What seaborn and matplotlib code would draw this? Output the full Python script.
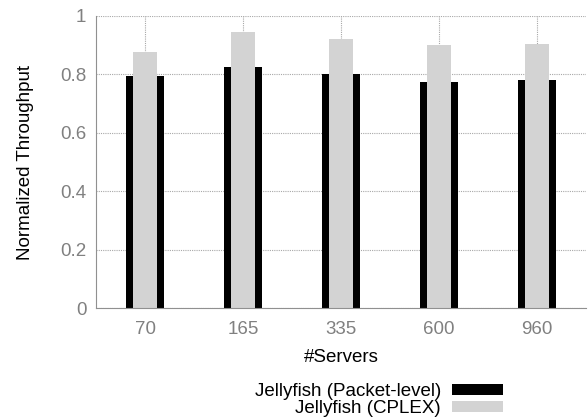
import matplotlib
matplotlib.use("Agg")
import matplotlib.pyplot as plt
import matplotlib.patches as mpatches
import seaborn as sns
import pandas as pd

servers = ["70", "165", "335", "600", "960"]
packet_level = [0.795, 0.825, 0.801, 0.774, 0.781]
cplex = [0.877, 0.945, 0.921, 0.900, 0.904]
series_names = ["Jellyfish (Packet-level)", "Jellyfish (CPLEX)"]
yticks = [0, 0.2, 0.4, 0.6, 0.8, 1]
ytick_labels = ["0", "0.2", "0.4", "0.6", "0.8", "1"]

sns.set_theme(style="white")
plt.rcParams["font.family"] = ["Liberation Sans", "DejaVu Sans"]

df = pd.DataFrame({"servers": servers, "packet": packet_level, "cplex": cplex})

fig = plt.figure(figsize=(5.88, 4.19), dpi=100)
ax = fig.add_axes([96/588, 1-308/419, 490/588, 292/419])

sns.barplot(data=df, x="servers", y="packet", order=servers, color="black",
            width=0.378, saturation=1, ax=ax, zorder=3, linewidth=0)
sns.barplot(data=df, x="servers", y="cplex", order=servers, color="#d3d3d3",
            width=0.255, saturation=1, ax=ax, zorder=4, linewidth=0)

ax.set_xlim(-0.5, 4.5)
ax.set_ylim(0, 1)
ax.set_yticks(yticks)
ax.set_yticklabels(ytick_labels)

grey = "#808080"
fs = 13.5
ax.grid(True, axis="both", color="#a8a8a8", linestyle=(0, (1, 1)), linewidth=0.8, zorder=0)
ax.set_axisbelow(True)
for s in ["top", "right"]:
    ax.spines[s].set_visible(False)
for s in ["left", "bottom"]:
    ax.spines[s].set_visible(True)
    ax.spines[s].set_color("#909090")
    ax.spines[s].set_linestyle((0, (3, 1, 1, 1)))
    ax.spines[s].set_linewidth(0.8)
    ax.spines[s].set_zorder(5)

ax.tick_params(axis="both", colors=grey, labelsize=fs, direction="in", length=3, width=0.6)
ax.tick_params(axis="x", length=0, pad=9)
ax.tick_params(axis="y", pad=7)
for lbl in ax.get_xticklabels() + ax.get_yticklabels():
    lbl.set_color(grey)

ax.set_xlabel("#Servers", fontsize=fs, color="black", labelpad=8)
ax.set_ylabel("Normalized Throughput", fontsize=fs, color="black", labelpad=19)

handles = [mpatches.Patch(facecolor="black", edgecolor="none"),
           mpatches.Patch(facecolor="#d3d3d3", edgecolor="none")]
leg = fig.legend(handles, series_names, loc="center right",
                 bbox_to_anchor=(503/588, 1-400/419), frameon=False,
                 markerfirst=False, fontsize=fs, handlelength=2.72,
                 handleheight=0.53, labelspacing=0.02, handletextpad=0.59,
                 borderpad=0, borderaxespad=0)
for t in leg.get_texts():
    t.set_ha("right")
    t.set_color("black")

fig.savefig("out.png", dpi=100)
